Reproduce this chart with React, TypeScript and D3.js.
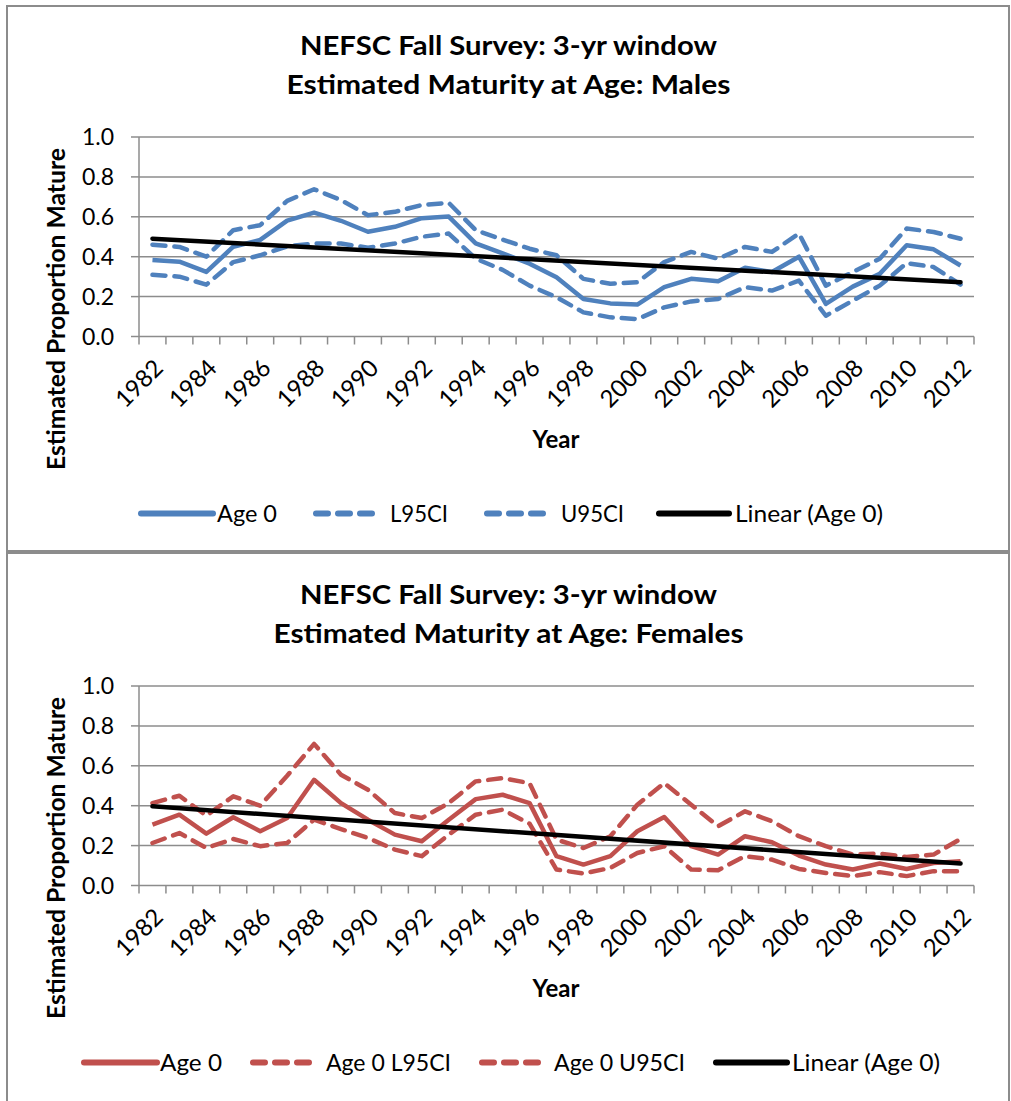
import React from "react";
import * as d3 from "d3";

const years = [1982,1983,1984,1985,1986,1987,1988,1989,1990,1991,1992,1993,1994,1995,1996,1997,1998,1999,2000,2001,2002,2003,2004,2005,2006,2007,2008,2009,2010,2011,2012];
const yTicks = [0, 0.2, 0.4, 0.6, 0.8, 1.0];

const maleAge0 = [0.384,0.375,0.324,0.45,0.484,0.581,0.621,0.58,0.525,0.55,0.593,0.601,0.467,0.417,0.365,0.297,0.188,0.166,0.16,0.247,0.289,0.277,0.345,0.323,0.40,0.163,0.25,0.314,0.457,0.437,0.356];
const maleL95 = [0.309,0.30,0.26,0.373,0.407,0.452,0.466,0.466,0.445,0.466,0.50,0.516,0.39,0.334,0.255,0.197,0.121,0.096,0.087,0.146,0.176,0.188,0.247,0.23,0.28,0.104,0.18,0.255,0.368,0.348,0.26];
const maleU95 = [0.46,0.449,0.40,0.533,0.558,0.68,0.738,0.684,0.608,0.625,0.659,0.67,0.533,0.486,0.44,0.407,0.289,0.264,0.272,0.373,0.424,0.39,0.449,0.424,0.516,0.255,0.323,0.39,0.541,0.524,0.49];
const maleTrend = [0.49, 0.272];

const femAge0 = [0.305,0.355,0.26,0.342,0.272,0.338,0.53,0.413,0.33,0.255,0.222,0.33,0.433,0.455,0.413,0.147,0.105,0.147,0.272,0.343,0.197,0.155,0.247,0.217,0.15,0.105,0.08,0.11,0.083,0.113,0.122];
const femL95 = [0.213,0.263,0.188,0.233,0.197,0.213,0.33,0.283,0.238,0.18,0.147,0.255,0.355,0.38,0.31,0.08,0.06,0.088,0.163,0.197,0.08,0.077,0.147,0.13,0.083,0.063,0.047,0.067,0.047,0.072,0.072];
const femU95 = [0.413,0.45,0.35,0.447,0.40,0.55,0.71,0.555,0.48,0.363,0.338,0.413,0.522,0.538,0.513,0.23,0.188,0.247,0.405,0.513,0.405,0.297,0.372,0.322,0.247,0.197,0.155,0.16,0.143,0.155,0.233];
const femTrend = [0.397, 0.11];

const maleLegend = ["Age 0", "L95CI", "U95CI", "Linear (Age 0)"];
const femLegend = ["Age 0", "Age 0 L95CI", "Age 0 U95CI", "Linear (Age 0)"];

const FONT = "Lato, 'Open Sans', sans-serif";
const GRID = "#8c8c8c";

type ChartProps = {
  top: number;
  titles: string[];
  titleW: number[];
  age0: number[];
  lo: number[];
  hi: number[];
  trend: number[];
  color: string;
  legend: string[];
  legendX: number[]; // per item: line start, line end, text start, text width
};

function Chart(p: ChartProps) {
  const x = d3.scaleLinear().domain([0, years.length]).range([139, 974]);
  const y = d3.scaleLinear().domain([0, 1]).range([p.top + 199.5, p.top]);
  const px = (i: number) => x(i + 0.5);
  const line = d3.line<number>().x((_, i) => px(i)).y((d) => y(d));
  const dash = "13 9";
  const base = y(0);
  return (
    <g>
      {p.titles.map((t, i) => (
        <text key={i} x={508.5} y={p.top - 82 + i * 39} textAnchor="middle" fontFamily={FONT} fontWeight={700} fontSize={26}
          textLength={p.titleW[i]} lengthAdjust="spacingAndGlyphs" fill="#000">{t}</text>
      ))}
      {yTicks.filter((v) => v > 0).map((v) => (
        <line key={v} x1={139} x2={974} y1={y(v)} y2={y(v)} stroke={GRID} strokeWidth={1.5} />
      ))}
      <line x1={139} x2={139} y1={y(1)} y2={base} stroke={GRID} strokeWidth={1.5} />
      <line x1={139} x2={974} y1={base} y2={base} stroke={GRID} strokeWidth={1.5} />
      {yTicks.map((v) => (
        <g key={"yt" + v}>
          <line x1={131} x2={139} y1={y(v)} y2={y(v)} stroke={GRID} strokeWidth={1.5} />
          <text x={114} y={y(v)} dy="0.36em" textAnchor="end" fontFamily={FONT} fontSize={23} fill="#000">{d3.format(".1f")(v)}</text>
        </g>
      ))}
      {d3.range(years.length + 1).map((i) => (
        <line key={"xt" + i} x1={x(i)} x2={x(i)} y1={base} y2={base + 8} stroke={GRID} strokeWidth={1.5} />
      ))}
      {years.map((yr, i) => (i % 2 === 0 ? (
        <text key={"xl" + yr} transform={`translate(${px(i) + 6},${base + 27}) rotate(-45)`} textAnchor="end" dy="0.36em" fontFamily={FONT} fontSize={24} fill="#000">{yr}</text>
      ) : null))}
      <text transform={`translate(65,${p.top + 172}) rotate(-90)`} textAnchor="middle" fontFamily={FONT} fontWeight={700} fontSize={24}
        textLength={322} lengthAdjust="spacingAndGlyphs" fill="#000">Estimated Proportion Mature</text>
      <text x={556} y={base + 111} textAnchor="middle" fontFamily={FONT} fontWeight={700} fontSize={24} fill="#000">Year</text>
      <path d={line(p.age0) || ""} fill="none" stroke={p.color} strokeWidth={4.5} strokeLinejoin="round" />
      <path d={line(p.lo) || ""} fill="none" stroke={p.color} strokeWidth={4.5} strokeDasharray={dash} strokeLinecap="round" strokeLinejoin="round" />
      <path d={line(p.hi) || ""} fill="none" stroke={p.color} strokeWidth={4.5} strokeDasharray={dash} strokeLinecap="round" strokeLinejoin="round" />
      <line x1={px(0)} x2={px(years.length - 1)} y1={y(p.trend[0])} y2={y(p.trend[1])} stroke="#000" strokeWidth={4.5} strokeLinecap="round" />
      {p.legend.map((lab, i) => {
        const x0 = p.legendX[i * 4], x1 = p.legendX[i * 4 + 1], tx = p.legendX[i * 4 + 2], tw = p.legendX[i * 4 + 3];
        const ly = base + 177;
        const col = i === 3 ? "#000" : p.color;
        const dashed = i === 1 || i === 2;
        return (
          <g key={"lg" + i}>
            <line x1={dashed ? x0 + 3 : x0} x2={dashed ? x1 - 3 : x1} y1={ly} y2={ly} stroke={col} strokeWidth={6}
              strokeDasharray={dashed ? "12 10" : undefined}
              strokeLinecap="round" />
            <text x={tx} y={ly} dy="0.36em" fontFamily={FONT} fontSize={24} textLength={tw} lengthAdjust="spacingAndGlyphs" fill="#000">{lab}</text>
          </g>
        );
      })}
    </g>
  );
}

export default function App() {
  return (
    <svg width={1011} height={1101} style={{ position: "absolute", left: 0, top: 0, background: "#fff" }}>
      <rect x={0} y={0} width={1011} height={1101} fill="#fff" />
      <rect x={7} y={6} width={1002} height={545} fill="none" stroke="#8c8c8c" strokeWidth={2} />
      <rect x={7} y={553} width={1002} height={560} fill="none" stroke="#8c8c8c" strokeWidth={2} />
      <Chart top={137} titles={["NEFSC Fall Survey: 3-yr window", "Estimated Maturity at Age: Males"]} titleW={[417, 444]}
        age0={maleAge0} lo={maleL95} hi={maleU95} trend={maleTrend} color="#4f81bd" legend={maleLegend}
        legendX={[141, 213, 217, 60, 313, 376, 390, 58, 484, 547, 561, 63, 659, 729, 735, 148]} />
      <Chart top={686} titles={["NEFSC Fall Survey: 3-yr window", "Estimated Maturity at Age: Females"]} titleW={[417, 470]}
        age0={femAge0} lo={femL95} hi={femU95} trend={femTrend} color="#c0504d" legend={femLegend}
        legendX={[84, 157, 160, 62, 250, 314, 326, 125, 479, 543, 554, 131, 716, 787, 792, 148]} />
    </svg>
  );
}
